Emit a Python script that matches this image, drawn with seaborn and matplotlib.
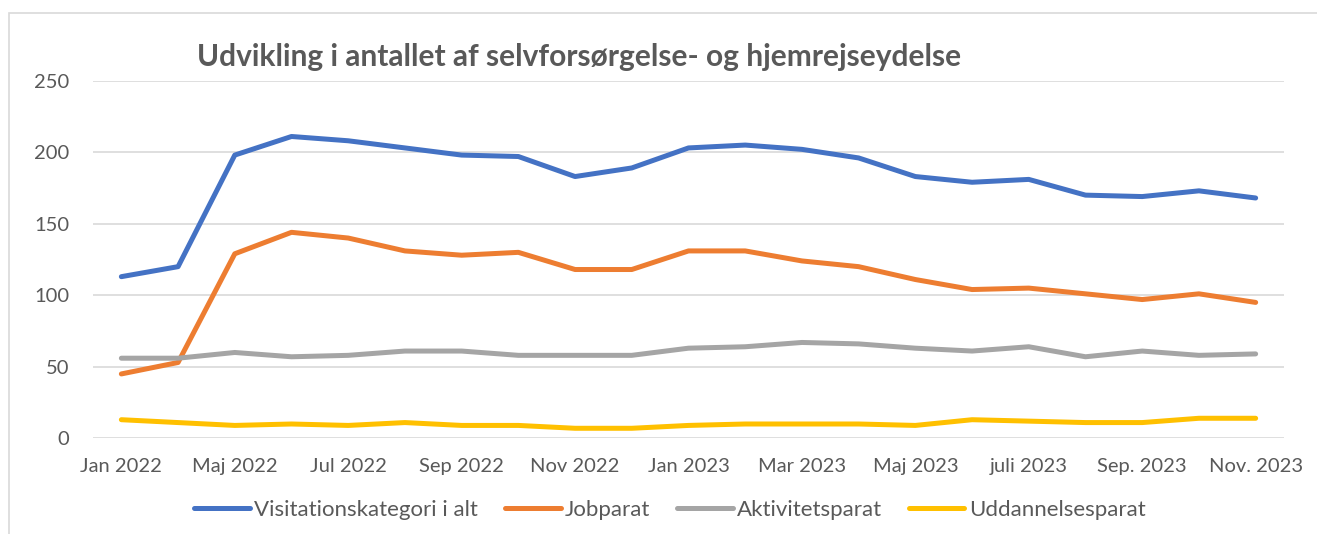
import pandas as pd
import matplotlib
matplotlib.use("Agg")
import matplotlib.pyplot as plt
import seaborn as sns
from matplotlib.patches import Rectangle

# === Data ===
months = ["Jan 2022", "Apr 2022", "Maj 2022", "Jun 2022", "Jul 2022", "Aug 2022",
          "Sep 2022", "Okt 2022", "Nov 2022", "Dec 2022", "Jan 2023", "Feb 2023",
          "Mar 2023", "Apr 2023", "Maj 2023", "Jun 2023", "juli 2023", "Aug. 2023",
          "Sep. 2023", "Okt. 2023", "Nov. 2023"]
visitation = [113, 120, 198, 211, 208, 203, 198, 197, 183, 189, 203, 205,
              202, 196, 183, 179, 181, 170, 169, 173, 168]
jobparat = [45, 53, 129, 144, 140, 131, 128, 130, 118, 118, 131, 131,
            124, 120, 111, 104, 105, 101, 97, 101, 95]
aktivitetsparat = [56, 56, 60, 57, 58, 61, 61, 58, 58, 58, 63, 64,
                   67, 66, 63, 61, 64, 57, 61, 58, 59]
uddannelsesparat = [13, 11, 9, 10, 9, 11, 9, 9, 7, 7, 9, 10,
                    10, 10, 9, 13, 12, 11, 11, 14, 14]

series_names = ["Visitationskategori i alt", "Jobparat", "Aktivitetsparat", "Uddannelsesparat"]
colors = ["#4472C4", "#ED7D31", "#A5A5A5", "#FFC000"]

df = pd.concat([
    pd.DataFrame({"Måned": months, "Antal": vals, "Kategori": name})
    for name, vals in zip(series_names, [visitation, jobparat, aktivitetsparat, uddannelsesparat])
])

sns.set_theme(style="white")
plt.rcParams["font.family"] = ["Lato", "DejaVu Sans"]

W, H = 1317, 534
fig = plt.figure(figsize=(W / 100, H / 100), dpi=100)
ax = fig.add_axes([93 / W, 1 - 438.3 / H, (1284 - 93) / W, (438.3 - 80.7) / H])

sns.lineplot(data=df, x="Måned", y="Antal", hue="Kategori", hue_order=series_names,
             palette=colors, linewidth=3.6, ax=ax, sort=False, legend=True)

ax.set_xlim(-0.5, len(months) - 0.5)
ax.set_ylim(0, 250)
ax.set_yticks(range(0, 251, 50))
ax.set_xticks(range(0, len(months), 2))
ax.set_xticklabels(months[::2])
ax.yaxis.grid(True, color="#D9D9D9", linewidth=1.2)
ax.set_axisbelow(True)
for s in ax.spines.values():
    s.set_visible(False)
ax.tick_params(axis="both", length=0, labelsize=14.5, colors="#595959")
ax.tick_params(axis="x", pad=14)
ax.tick_params(axis="y", pad=17)
ax.set_xlabel("")
ax.set_ylabel("")

handles, labels = ax.get_legend_handles_labels()
ax.get_legend().remove()
fig.legend(handles, labels, loc="center", bbox_to_anchor=(670 / W, 1 - 510 / H), ncol=4,
           frameon=False, fontsize=16, handlelength=2.5, handletextpad=0.2,
           columnspacing=1.2, labelcolor="#595959")

fig.text(197 / W, 1 - 57 / H, "Udvikling i antallet af selvforsørgelse- og hjemrejseydelse",
         fontsize=21.5, fontweight="bold", color="#595959", va="center", ha="left")

# chart frame
fig.patches.append(Rectangle((9 / W, -0.1), 1.2, 1 - 13 / H + 0.1, transform=fig.transFigure,
                             fill=False, edgecolor="#D9D9D9", linewidth=1.2))

fig.savefig("out.png", dpi=100)
